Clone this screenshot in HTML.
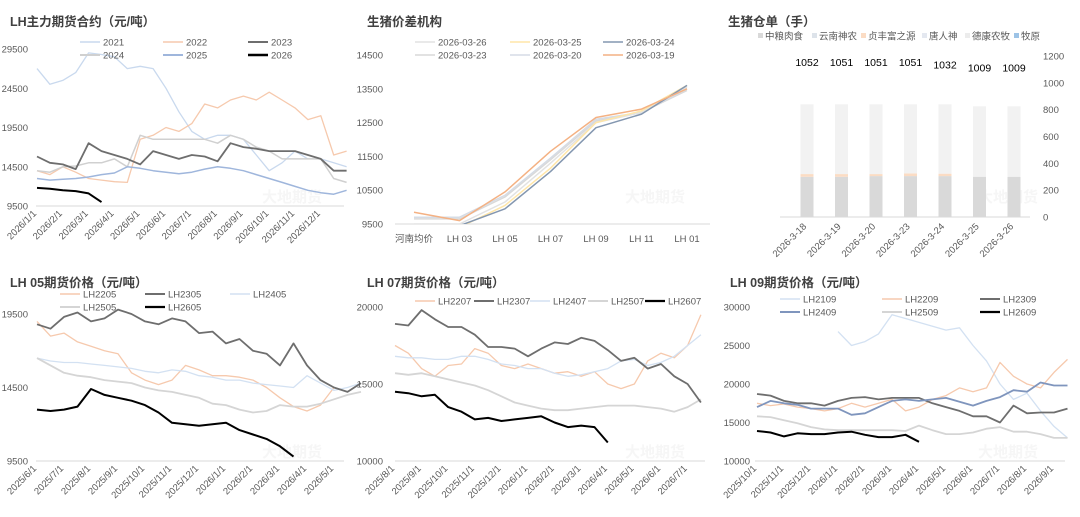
<!DOCTYPE html>
<html><head><meta charset="utf-8">
<style>
html,body{margin:0;padding:0;background:#fff;}
svg{display:block;font-family:"Liberation Sans","Noto Sans CJK SC",sans-serif;}
.t{font-size:12.5px;font-weight:bold;fill:#404040;}
.tk{font-size:9.5px;fill:#595959;}
.lg{font-size:9.5px;fill:#595959;}
</style></head>
<body>
<svg id="s" width="1080" height="517" viewBox="0 0 1080 517">
<text class="t" x="10" y="26">LH主力期货合约（元/吨）</text>
<text class="t" x="367" y="26">生猪价差机构</text>
<text class="t" x="728" y="26">生猪仓单（手）</text>
<text class="t" x="10" y="287">LH 05期货价格（元/吨）</text>
<text class="t" x="367" y="287">LH 07期货价格（元/吨）</text>
<text class="t" x="730" y="287">LH 09期货价格（元/吨）</text>
<g fill="#f6f6f6" font-size="15" font-weight="bold">
<text x="262" y="202">大地期货</text>
<text x="625" y="202">大地期货</text>
<text x="978" y="202">大地期货</text>
<text x="262" y="457">大地期货</text>
<text x="625" y="457">大地期货</text>
<text x="978" y="457">大地期货</text>
</g>
</svg>
<script>
// ---------- data ----------
const p1Months = ["2026/1/1","2026/2/1","2026/3/1","2026/4/1","2026/5/1","2026/6/1","2026/7/1","2026/8/1","2026/9/1","2026/10/1","2026/11/1","2026/12/1"];
const p1Ticks = [9500,14500,19500,24500,29500];
const p1Names = ["2021","2022","2023","2024","2025","2026"];
const p1S2021 = [27000,25000,25500,26500,29000,28800,28500,27000,27300,27000,24500,21500,19000,18000,18500,18500,18000,16000,14000,15000,16500,15500,15500,15000,14500];
const p1S2022 = [14000,13500,14500,13800,13000,12800,12600,12500,18000,18500,19500,19000,20000,22500,22000,23000,23500,23000,24000,23000,22000,20500,21000,16000,16500];
const p1S2023 = [15800,15000,14800,14200,17500,16500,16000,15500,14800,16500,16000,15500,16000,15800,15200,17500,17000,16800,16500,16500,16500,16000,15500,14000,14000];
const p1S2024 = [14000,13800,14500,14600,15000,15000,15500,14500,18500,18000,18000,18000,18000,18000,17500,18500,18000,17000,16500,15500,15500,15500,15500,13000,12500];
const p1S2025 = [13000,12800,12900,13000,13200,13500,13700,14500,14300,14000,13800,13600,13800,14200,14500,14300,14000,13500,13000,12500,12000,11500,11200,11000,11500];
const p1S2026 = [11800,11700,11500,11400,11100,10000];

const p2Cats = ["河南均价","LH 03","LH 05","LH 07","LH 09","LH 11","LH 01"];
const p2Ticks = [9500,10500,11500,12500,13500,14500];
const p2Names = ["2026-03-26","2026-03-25","2026-03-24","2026-03-23","2026-03-20","2026-03-19"];
const p2S0326 = [9500,9500,10150,11300,12500,12800,13550];
const p2S0325 = [9350,9400,10050,11150,12500,12850,13600];
const p2S0324 = [9300,9450,9950,11050,12350,12750,13600];
const p2S0323 = [9650,9650,10300,11400,12550,12800,13450];
const p2S0320 = [9700,9700,10350,11450,12600,12800,13500];
const p2S0319 = [9850,9600,10450,11650,12650,12900,13500];

const p3Dates = ["2026-3-18","2026-3-19","2026-3-20","2026-3-23","2026-3-24","2026-3-25","2026-3-26"];
const p3Ticks = [0,200,400,600,800,1000,1200];
const p3Names = ["中粮肉食","云南神农","贞丰富之源","唐人神","德康农牧","牧原"];
const p3Zhongliang = [300,300,305,305,305,300,300];
const p3Yunnan = [0,0,0,0,0,0,0];
const p3Zhenfeng = [20,20,15,20,18,0,0];
const p3Tangrenshen = [0,0,0,0,0,0,0];
const p3Dekang = [520,520,520,515,517,525,525];
const p3Muyuan = [0,0,0,0,0,0,0];
const p3Totals = [1052,1051,1051,1051,1032,1009,1009];

const p4Months = ["2025/6/1","2025/7/1","2025/8/1","2025/9/1","2025/10/1","2025/11/1","2025/12/1","2026/1/1","2026/2/1","2026/3/1","2026/4/1","2026/5/1"];
const p4Ticks = [9500,14500,19500];
const p4Names = ["LH2205","LH2305","LH2405","LH2505","LH2605"];
const p4S2205 = [19000,18000,18200,17600,17300,17000,16800,15500,15000,14700,15000,16000,15700,15300,15300,15200,15000,14500,13800,13200,12900,13300,14500];
const p4S2305 = [18800,18500,19300,19600,19000,19200,19800,19500,19000,18800,19200,19000,18200,18300,17500,17800,17000,16800,16000,17500,16000,15000,14500,14200,14800];
const p4S2405 = [16500,16300,16200,16200,16100,16000,15900,15800,15600,15500,15700,15600,15300,15200,15000,15000,14800,14700,14600,14500,15300,14800,14300,14500,14800];
const p4S2505 = [16500,16000,15500,15300,15200,15000,14900,14800,14500,14300,14200,14000,13800,13400,13300,13000,12800,12900,13300,13200,13200,13400,13700,14000,14200];
const p4S2605 = [13000,12900,13000,13200,14400,14000,13800,13600,13300,12800,12100,12000,11900,12000,12100,11600,11300,11000,10500,9800];

const p5Months = ["2025/8/1","2025/9/1","2025/10/1","2025/11/1","2025/12/1","2026/1/1","2026/2/1","2026/3/1","2026/4/1","2026/5/1","2026/6/1","2026/7/1"];
const p5Ticks = [10000,15000,20000];
const p5Names = ["LH2207","LH2307","LH2407","LH2507","LH2607"];
const p5S2207 = [17500,17000,16000,15500,16200,16300,17300,17000,16200,16000,16300,16000,15700,15800,15500,15800,15000,14700,15000,16500,17000,16700,17500,19500];
const p5S2307 = [18900,18800,19800,19200,18700,18700,18200,17400,17400,17300,16800,17300,17700,17600,18000,17800,17200,16500,16700,16000,16300,15500,15000,13800];
const p5S2407 = [16800,16700,16700,16600,16600,16800,16800,16600,16300,16200,16000,16000,15700,15500,15600,15800,16000,16500,16600,16200,16400,16800,17500,18200];
const p5S2507 = [15700,15600,15700,15500,15300,15100,14900,14600,14200,13800,13600,13400,13300,13300,13400,13500,13600,13600,13600,13500,13400,13200,13500,14000];
const p5S2607 = [14500,14400,14200,14300,13500,13200,12700,12800,12600,12700,12800,12900,12500,12200,12300,12200,11200];

const p6Months = ["2025/10/1","2025/11/1","2025/12/1","2026/1/1","2026/2/1","2026/3/1","2026/4/1","2026/5/1","2026/6/1","2026/7/1","2026/8/1","2026/9/1"];
const p6Ticks = [10000,15000,20000,25000,30000];
const p6Names = ["LH2109","LH2209","LH2309","LH2409","LH2509","LH2609"];
const p6S2109 = [null,null,null,null,null,null,26800,25000,25500,26500,29000,28500,28000,27500,27000,27300,25000,23000,20000,18000,18800,16500,14500,13000];
const p6S2209 = [17500,17200,17400,17000,16800,16500,16800,17500,17000,17500,18000,16500,17000,18000,18500,19500,19000,19500,22800,21000,20000,19500,21500,23200];
const p6S2309 = [18700,18500,17800,17500,17500,17200,17800,18200,18300,18000,18200,18200,18200,17500,17000,16500,15800,15800,15000,17200,16200,16300,16300,16800];
const p6S2409 = [17000,17800,17500,17300,16800,16800,16800,16000,16200,17000,17800,18000,17800,18000,18200,17700,17200,17800,18300,19200,19000,20200,19800,19800];
const p6S2509 = [15800,15700,15300,14900,14400,14100,14000,14000,14000,14000,14000,13900,14600,14000,13500,13500,13700,14200,14400,13800,13800,13500,13000,13000];
const p6S2609 = [13900,13700,13200,13600,13500,13500,13700,13800,13400,13100,13100,13400,12500];

// ---------- drawing ----------
const NS="http://www.w3.org/2000/svg";
const svg=document.getElementById('s');
function el(tag,attrs,parent){const e=document.createElementNS(NS,tag);for(const k in attrs)e.setAttribute(k,attrs[k]);(parent||svg).appendChild(e);return e;}

function yAxis(ticks,min,max,top,bottom,x0,x1,labelX,anchor,name){
  const ys=v=>bottom-(v-min)/(max-min)*(bottom-top);
  const ax=el('line',{x1:x0,x2:x1,y1:bottom,y2:bottom,stroke:'#d9d9d9','stroke-width':1});
  
  
  ticks.forEach(t=>{const tx=el('text',{x:labelX,y:ys(t)+3.5,'class':'tk','text-anchor':anchor});tx.textContent=t;
    
    });
  return ys;
}
function xLabels(labels,xf,y,name){
  labels.forEach((l,i)=>{const x=xf(i);const t=el('text',{x:x,y:y,'class':'tk','text-anchor':'end',transform:`rotate(-45 ${x} ${y})`});t.textContent=l;
    
    });
}
function line(vals,xf,ys,color,w,name,clip){
  let d='',pen=false;
  vals.forEach((v,i)=>{if(v==null){pen=false;return;}d+=(pen?'L':'M')+xf(i).toFixed(1)+','+ys(v).toFixed(1);pen=true;});
  const p=el('path',{d:d,fill:'none',stroke:color,'stroke-width':w,'stroke-linejoin':'round'});
  if(clip)p.setAttribute('clip-path',clip);
  
  
}
function legend(name,text,x,y,color,w){
  const g=el('g',{});
  
  
  el('line',{x1:x,x2:x+20,y1:y,y2:y,stroke:color,'stroke-width':w},g);
  const t=el('text',{x:x+23,y:y+3.5,'class':'lg'},g);t.textContent=text;
}

// Panel 1
{
  const ys=yAxis(p1Ticks,9500,29500,49,206,36,344,28,'end','main');
  const xf=i=>37+i/2*25.8;
  const mx=i=>37+i*25.8;
  xLabels(p1Months,mx,214,'main');
  const series=[p1S2021,p1S2022,p1S2024,p1S2025,p1S2023,p1S2026];
  const cols=['#c9d9ee','#f6c9ad','#d0d0d0','#9fb6dc','#6e6e6e','#000'];
  const ws=[1.3,1.3,1.5,1.5,1.8,2];
  const nm=['2021','2022','2024','2025','2023','2026'];
  series.forEach((s,k)=>line(s,xf,ys,cols[k],ws[k],'line-'+nm[k]));
  const lc={'2021':'#c9d9ee','2022':'#f6c9ad','2023':'#6e6e6e','2024':'#d0d0d0','2025':'#9fb6dc','2026':'#000'};
  const lw={'2021':1.5,'2022':1.5,'2023':2,'2024':2,'2025':2,'2026':2.5};
  p1Names.forEach((n,i)=>legend(n,n,[80,163,248][i%3],i<3?42:55,lc[n],lw[n]));
}
// Panel 2
{
  const ys=yAxis(p2Ticks,9500,14500,55,224,395,710,383,'end','spread');
  el('clipPath',{id:'c2'}).appendChild(document.createElementNS(NS,'rect'));
  const r=document.querySelector('#c2 rect');r.setAttribute('x',395);r.setAttribute('y',40);r.setAttribute('width',320);r.setAttribute('height',184);
  const xf=i=>414+i*45.5;
  p2Cats.forEach((c,i)=>{const t=el('text',{x:xf(i),y:242,'class':'tk','text-anchor':'middle'});t.textContent=c;
    
    });
  const cols={'2026-03-26':'#e2e2e2','2026-03-25':'#ffe6a8','2026-03-24':'#8497b0','2026-03-23':'#d9d9d9','2026-03-20':'#d6dce5','2026-03-19':'#f4b183'};
  const data={'2026-03-26':p2S0326,'2026-03-25':p2S0325,'2026-03-24':p2S0324,'2026-03-23':p2S0323,'2026-03-20':p2S0320,'2026-03-19':p2S0319};
  ['2026-03-23','2026-03-20','2026-03-26','2026-03-25','2026-03-24','2026-03-19'].forEach(n=>line(data[n],xf,ys,cols[n],1.5,'line-'+n,'url(#c2)'));
  p2Names.forEach((n,i)=>legend(n,n,[415,510,603][i%3],i<3?42:55,cols[n],1.5));
}
// Panel 3
{
  const ys=yAxis(p3Ticks,0,1200,56,217,780,1030,1043,'start','receipt');
  const xf=i=>807+i*34.5;
  xLabels(p3Dates,xf,227,'receipt');
  const stacks=[p3Zhongliang,p3Yunnan,p3Zhenfeng,p3Tangrenshen,p3Dekang,p3Muyuan];
  const cols=['#d9d9d9','#dde3ea','#fbdcc4','#e4e8f0','#f2f2f2','#9dc3e6'];
  p3Dates.forEach((d,i)=>{
    let acc=0;
    stacks.forEach((s,k)=>{const v=s[i];if(v>0){const r=el('rect',{x:xf(i)-6.5,width:13,y:ys(acc+v),height:ys(acc)-ys(acc+v),fill:cols[k]});
      
      }
      acc+=v;});
    const t=el('text',{x:xf(i),y:ys(p3Totals[i])-10,'font-size':'10.5','fill':'#000','text-anchor':'middle'});t.textContent=p3Totals[i];
    
    
  });
  const lx=[758,812,861,922,965,1014];
  p3Names.forEach((n,i)=>{const g=el('g',{});
    
    
    el('rect',{x:lx[i],y:33,width:5,height:5,fill:cols[i]==='#f2f2f2'?'#ececec':cols[i]},g);
    const t=el('text',{x:lx[i]+7,y:39.5,'class':'lg','font-size':'9.5'},g);t.textContent=n;});
}
// Generic time panels
function timePanel(cfg){
  const ys=yAxis(cfg.ticks,cfg.min,cfg.max,cfg.top,cfg.bottom,cfg.x0,cfg.x1,cfg.lx,'end',cfg.name);
  const xf=i=>cfg.mx0+i/2*cfg.ms;
  xLabels(cfg.months,i=>cfg.mx0+i*cfg.ms,cfg.bottom+8,cfg.name);
  cfg.order.forEach(k=>line(cfg.data[k],xf,ys,cfg.cols[k],cfg.ws[k],'line-'+k));
  cfg.names.forEach((n,i)=>legend(n,n,cfg.legX[i],cfg.legY[i],cfg.cols[n],cfg.ws[n]+0.3));
}
timePanel({name:'lh05',ticks:p4Ticks,min:9500,max:19500,top:314,bottom:461,x0:36,x1:344,lx:28,months:p4Months,mx0:37,ms:27,
  data:{LH2205:p4S2205,LH2305:p4S2305,LH2405:p4S2405,LH2505:p4S2505,LH2605:p4S2605},
  cols:{LH2205:'#f6c9ad',LH2305:'#6e6e6e',LH2405:'#d3e1f2',LH2505:'#d5d5d5',LH2605:'#000'},
  ws:{LH2205:1.3,LH2305:1.8,LH2405:1.3,LH2505:1.8,LH2605:2},
  order:['LH2205','LH2405','LH2505','LH2305','LH2605'],names:p4Names,
  legX:[60,145,230,60,145],legY:[294,294,294,307,307]});
timePanel({name:'lh07',ticks:p5Ticks,min:10000,max:20000,top:307,bottom:461,x0:395,x1:705,lx:383,months:p5Months,mx0:395,ms:26.6,
  data:{LH2207:p5S2207,LH2307:p5S2307,LH2407:p5S2407,LH2507:p5S2507,LH2607:p5S2607},
  cols:{LH2207:'#f6c9ad',LH2307:'#6e6e6e',LH2407:'#d3e1f2',LH2507:'#d5d5d5',LH2607:'#000'},
  ws:{LH2207:1.3,LH2307:1.8,LH2407:1.3,LH2507:1.8,LH2607:2},
  order:['LH2207','LH2407','LH2507','LH2307','LH2607'],names:p5Names,
  legX:[415,474,530,588,645],legY:[301,301,301,301,301]});
timePanel({name:'lh09',ticks:p6Ticks,min:10000,max:30000,top:307,bottom:461,x0:755,x1:1065,lx:750,months:p6Months,mx0:757,ms:27,
  data:{LH2109:p6S2109,LH2209:p6S2209,LH2309:p6S2309,LH2409:p6S2409,LH2509:p6S2509,LH2609:p6S2609},
  cols:{LH2109:'#d3e1f2',LH2209:'#f6c9ad',LH2309:'#6e6e6e',LH2409:'#7f95bd',LH2509:'#d5d5d5',LH2609:'#000'},
  ws:{LH2109:1.3,LH2209:1.3,LH2309:1.8,LH2409:1.8,LH2509:1.8,LH2609:2},
  order:['LH2109','LH2209','LH2509','LH2309','LH2409','LH2609'],names:p6Names,
  legX:[780,882,980,780,882,980],legY:[299,299,299,312,312,312]});
</script>
</body></html>
